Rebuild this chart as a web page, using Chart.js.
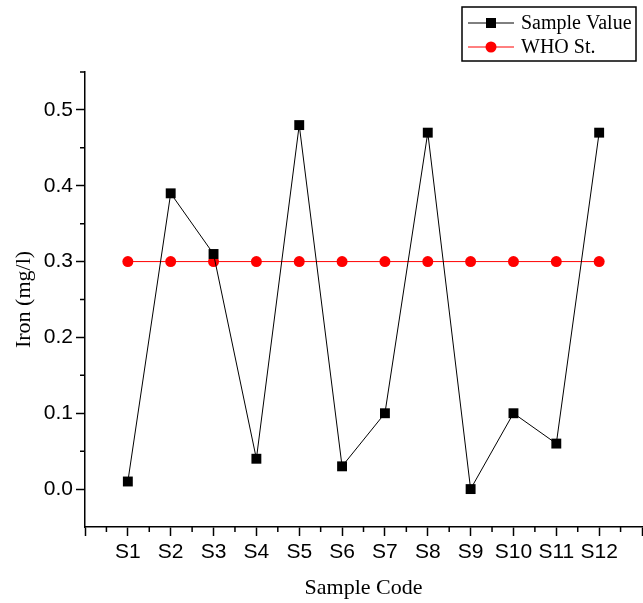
<!DOCTYPE html>
<html>
<head>
<meta charset="utf-8">
<script src="https://cdn.jsdelivr.net/npm/chart.js@4/dist/chart.umd.min.js"></script>
<style>
  html, body { margin: 0; padding: 0; background: #fff; overflow: hidden; }
  canvas { display: block; }
</style>
</head>
<body>
<canvas id="ironChart" width="649" height="603"></canvas>
<script>
// Data
const sampleCodes = ['S1', 'S2', 'S3', 'S4', 'S5', 'S6', 'S7', 'S8', 'S9', 'S10', 'S11', 'S12'];
const sampleValues = [0.01, 0.39, 0.31, 0.04, 0.48, 0.03, 0.10, 0.47, 0.00, 0.10, 0.06, 0.47];
const whoStandard = [0.30, 0.30, 0.30, 0.30, 0.30, 0.30, 0.30, 0.30, 0.30, 0.30, 0.30, 0.30];
const yTicks = [0.0, 0.1, 0.2, 0.3, 0.4, 0.5];

const toPoints = vals => vals.map((v, i) => ({ x: i + 1, y: v }));

// minor ticks (half steps) drawn with the scales' own pixel mapping
const minorTicks = {
  id: 'minorTicks',
  afterDraw(chart) {
    const ctx = chart.ctx;
    const xs = chart.scales.x, ys = chart.scales.y;
    ctx.save();
    ctx.strokeStyle = '#000';
    ctx.lineWidth = 1.5;
    ctx.beginPath();
    for (let v = 0.5; v < xs.max; v += 1) {
      const px = xs.getPixelForValue(v);
      ctx.moveTo(px, xs.top);
      ctx.lineTo(px, xs.top + 5);
    }
    for (let v = 0.05; v < ys.max; v += 0.1) {
      const py = ys.getPixelForValue(v);
      ctx.moveTo(ys.right, py);
      ctx.lineTo(ys.right - 5, py);
    }
    ctx.stroke();
    ctx.restore();
  }
};

// boxed legend in the top right corner, line + marker like the original
const boxLegend = {
  id: 'boxLegend',
  afterDraw(chart) {
    const ctx = chart.ctx;
    ctx.save();
    ctx.strokeStyle = '#000';
    ctx.lineWidth = 1.5;
    ctx.strokeRect(462, 7, 174, 54);
    ctx.font = '20px "Liberation Serif", "Times New Roman", serif';
    ctx.textBaseline = 'middle';
    chart.data.datasets.forEach((ds, i) => {
      const y = 23 + i * 24;
      ctx.strokeStyle = ds.borderColor;
      ctx.lineWidth = 1;
      ctx.beginPath();
      ctx.moveTo(468, y);
      ctx.lineTo(514, y);
      ctx.stroke();
      ctx.fillStyle = ds.pointBackgroundColor;
      if (ds.pointStyle === 'rect') {
        ctx.fillRect(486, y - 5, 10, 10);
      } else {
        ctx.beginPath();
        ctx.arc(491, y, 5.5, 0, Math.PI * 2);
        ctx.fill();
      }
      ctx.fillStyle = '#000';
      ctx.fillText(ds.label, 521, y + 1);
    });
    ctx.restore();
  }
};

new Chart(document.getElementById('ironChart'), {
  type: 'line',
  data: {
    datasets: [
      {
        label: 'Sample Value',
        data: toPoints(sampleValues),
        borderColor: '#000',
        borderWidth: 1,
        pointStyle: 'rect',
        pointRadius: 7,
        pointBackgroundColor: '#000',
        pointBorderColor: '#000',
        pointBorderWidth: 0,
        tension: 0
      },
      {
        label: 'WHO St.',
        data: toPoints(whoStandard),
        borderColor: '#ff0000',
        borderWidth: 1,
        pointStyle: 'circle',
        pointRadius: 5.5,
        pointBackgroundColor: '#ff0000',
        pointBorderColor: '#ff0000',
        pointBorderWidth: 0,
        tension: 0
      }
    ]
  },
  options: {
    responsive: false,
    animation: false,
    events: [],
    layout: { padding: { top: 72, right: 3, left: 0, bottom: 0 } },
    plugins: {
      legend: { display: false },
      title: { display: false },
      tooltip: { enabled: false }
    },
    scales: {
      x: {
        type: 'linear',
        min: 0,
        max: 13,
        afterFit: s => { s.height = 76; },
        grid: { drawOnChartArea: false, tickLength: 9, tickWidth: 1.5, color: '#000' },
        border: { color: '#000', width: 1.5 },
        ticks: {
          stepSize: 1,
          includeBounds: false,
          autoSkip: false,
          maxRotation: 0,
          padding: 4,
          color: '#000',
          font: { family: '"Liberation Sans", Arial, sans-serif', size: 21 },
          callback: v => sampleCodes[v - 1] || ''
        },
        title: {
          display: true,
          text: 'Sample Code',
          color: '#000',
          font: { family: '"Liberation Serif", "Times New Roman", serif', size: 22, lineHeight: 1.0 }
        }
      },
      y: {
        min: -0.05,
        max: 0.55,
        afterFit: s => { s.width = 85; },
        afterBuildTicks: s => { s.ticks = yTicks.map(v => ({ value: v })); },
        grid: { drawOnChartArea: false, tickLength: 9, tickWidth: 1.5, color: '#000' },
        border: { color: '#000', width: 1.5 },
        ticks: {
          padding: 3,
          color: '#000',
          font: { family: '"Liberation Sans", Arial, sans-serif', size: 21 },
          callback: v => v.toFixed(1)
        },
        title: {
          display: true,
          text: 'Iron (mg/l)',
          color: '#000',
          font: { family: '"Liberation Serif", "Times New Roman", serif', size: 22, lineHeight: 1.8 }
        }
      }
    }
  },
  plugins: [minorTicks, boxLegend]
});
</script>
</body>
</html>
